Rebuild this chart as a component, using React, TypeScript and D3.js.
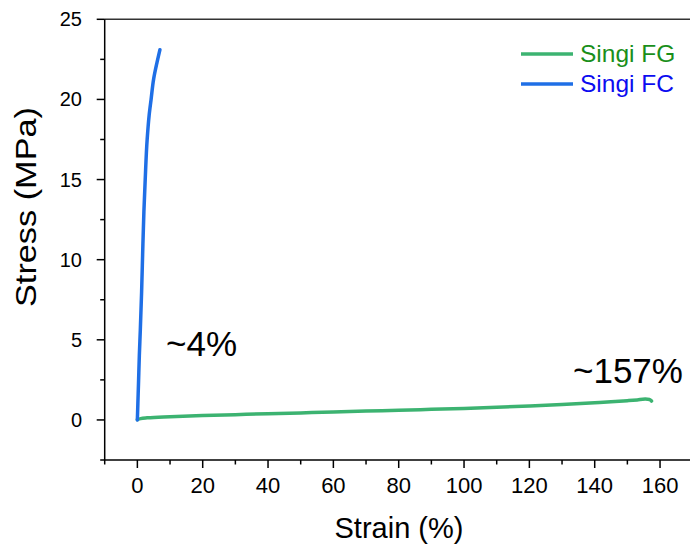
import React from "react";
import * as d3 from "d3";

const fgStrain = [0, 1, 3, 10, 20, 30, 40, 50, 60, 70, 80, 90, 100, 110, 120, 130, 140, 145, 150, 153, 155.5, 156.8, 157.4];
const fgStress = [0.02, 0.08, 0.13, 0.2, 0.27, 0.33, 0.39, 0.44, 0.49, 0.55, 0.6, 0.66, 0.72, 0.79, 0.87, 0.96, 1.07, 1.13, 1.2, 1.25, 1.3, 1.28, 1.18];

const fcStrain = [0, 0.15, 0.35, 0.6, 0.9, 1.3, 1.7, 2.0, 2.4, 3.0, 3.6, 4.2, 5.0, 6.0, 6.9];
const fcStress = [0, 1.0, 2.3, 4.0, 5.6, 8.0, 11.0, 13.0, 15.0, 17.5, 19.0, 20.0, 21.3, 22.3, 23.1];

const xTicks = [0, 20, 40, 60, 80, 100, 120, 140, 160];
const yTicks = [0, 5, 10, 15, 20, 25];

const W = 690, H = 545;
const L = 104.7, T = 19.3, B = 460;

export default function App() {
  const x = d3.scaleLinear().domain([-10, 170]).range([L, L + 180 * 3.2667]);
  const y = d3.scaleLinear().domain([-2.5, 25]).range([B, T]);
  const line = d3.line<[number, number]>().x(d => x(d[0])).y(d => y(d[1])).curve(d3.curveMonotoneX);
  const lineFc = d3.line<[number, number]>().x(d => x(d[0])).y(d => y(d[1])).curve(d3.curveMonotoneY);
  const fg = fgStrain.map((s, i) => [s, fgStress[i]] as [number, number]);
  const fc = fcStrain.map((s, i) => [s, fcStress[i]] as [number, number]);
  const xMinor = d3.range(-10, 171, 10).filter(v => !xTicks.includes(v));
  const yMinor = d3.range(-2.5, 25.1, 2.5).filter(v => !yTicks.includes(v));
  const green = "#3cb371";
  const blue = "#1f6fe6";
  const font = "Liberation Sans, Arial, sans-serif";
  return (
    <svg width={W} height={H} style={{ position: "fixed", left: 0, top: 0, background: "#fff" }} fontFamily={font}>
      <rect x={0} y={0} width={W} height={H} fill="#fff" />
      <line x1={L} x2={W} y1={T} y2={T} stroke="#333" strokeWidth={1.5} />
      <line x1={L} x2={W} y1={B} y2={B} stroke="#000" strokeWidth={1.5} />
      <line x1={L} x2={L} y1={T} y2={B} stroke="#000" strokeWidth={1.5} />
      {xTicks.map(v => (
        <g key={"xt" + v}>
          <line x1={x(v)} x2={x(v)} y1={B} y2={B + 8} stroke="#000" strokeWidth={1.5} />
          <text x={x(v)} y={493} fontSize={22} textAnchor="middle" fill="#000">{v}</text>
        </g>
      ))}
      {xMinor.map(v => (
        <line key={"xm" + v} x1={x(v)} x2={x(v)} y1={B} y2={B + 4.5} stroke="#000" strokeWidth={1.5} />
      ))}
      {yTicks.map(v => (
        <g key={"yt" + v}>
          <line x1={L - 8} x2={L} y1={y(v)} y2={y(v)} stroke="#000" strokeWidth={1.5} />
          <text x={82} y={y(v) + 7} fontSize={20} textAnchor="end" fill="#000">{v}</text>
        </g>
      ))}
      {yMinor.map(v => (
        <line key={"ym" + v} x1={L - 4.5} x2={L} y1={y(v)} y2={y(v)} stroke="#000" strokeWidth={1.5} />
      ))}
      <text x={399} y={538} fontSize={29} textAnchor="middle" fill="#000">Strain (%)</text>
      <text transform={`translate(36,${(107 + 307) / 2}) rotate(-90)`} fontSize={29} textAnchor="middle" fill="#000" textLength={200} lengthAdjust="spacingAndGlyphs">Stress (MPa)</text>
      <path d={line(fg) || ""} fill="none" stroke={green} strokeWidth={3.5} strokeLinecap="round" strokeLinejoin="round" />
      <path d={lineFc(fc) || ""} fill="none" stroke={blue} strokeWidth={3.5} strokeLinecap="round" strokeLinejoin="round" />
      <text x={166} y={356} fontSize={35} fill="#000">~4%</text>
      <text x={573} y={383} fontSize={35} fill="#000">~157%</text>
      <line x1={521} x2={573} y1={54} y2={54} stroke={green} strokeWidth={3.5} />
      <line x1={521} x2={573} y1={84} y2={84} stroke={blue} strokeWidth={3.5} />
      <text x={580} y={62} fontSize={24.5} fill="#1a8f1a">Singi FG</text>
      <text x={580} y={92} fontSize={24.5} fill="#0c0cf0">Singi FC</text>
    </svg>
  );
}
